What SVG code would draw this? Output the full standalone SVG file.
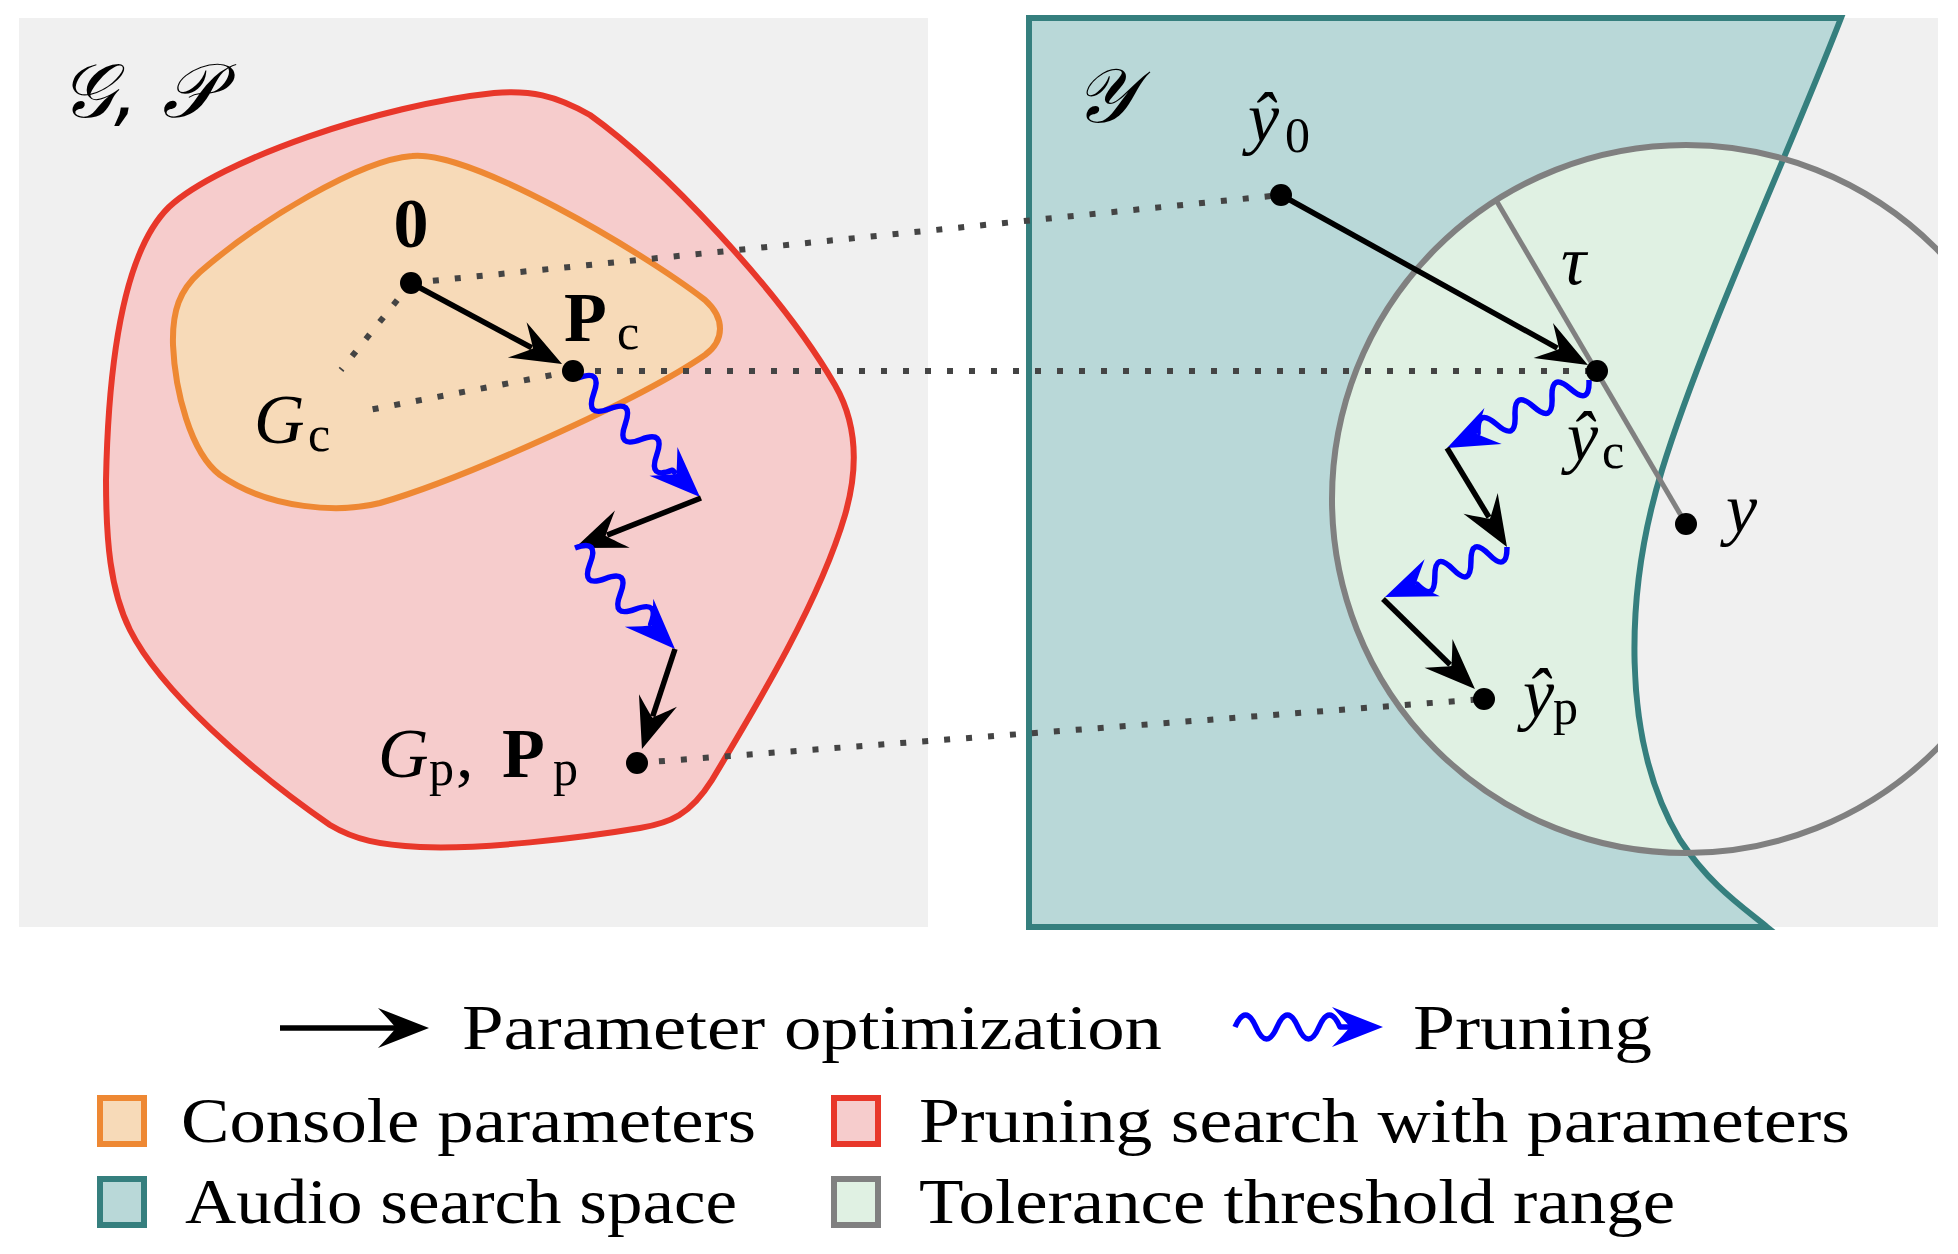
<svg xmlns="http://www.w3.org/2000/svg" xmlns:xlink="http://www.w3.org/1999/xlink" width="1958" height="1254" viewBox="0 0 1958 1254">
<style>
.panel{fill:#f0f0f0}
.t{font-family:"Liberation Serif","DejaVu Serif",serif;fill:#000}
.leg{font-size:64px}
.m{font-size:70px}
.mi{font-style:italic}
.b{font-weight:bold}
.sub{font-size:50px;font-style:normal;font-weight:normal}
.cal{font-family:"DejaVu Sans","Noto Sans","Liberation Serif",serif;font-size:76px}
.dot{fill:#000}
.dash{stroke:#444;stroke-width:6;stroke-dasharray:6 16;fill:none}
.ak{stroke:#000;stroke-width:5.5;fill:none}
.wv{stroke:#00f;stroke-width:5.5;fill:none;stroke-linejoin:round}
.hk{fill:#000}
.hb{fill:#00f}
.red{fill:#f6cccc;stroke:#e8372a;stroke-width:6}
.ora{fill:#f7dab8;stroke:#ee8833;stroke-width:6}
.teal{fill:#b9d8d8;stroke:#357f7e;stroke-width:6}
.tol{fill:#e0f1e3;stroke:#808080;stroke-width:6}
</style>
<defs>
<path id="head" d="M0,0 L-51,-20 Q-37,-5 -33,0 Q-37,5 -51,20 Z"/>
<path id="tealShape" d="M1029,18 L1841,18 C1790,150 1702,340 1662,470 C1625,590 1620,740 1680,840 C1710,885 1740,905 1767,927 L1029,927 Z"/>
<clipPath id="tealClip"><use xlink:href="#tealShape"/></clipPath>
<clipPath id="panelClip"><rect x="1029" y="18" width="909" height="909"/></clipPath>
</defs>
<rect width="1958" height="1254" fill="#fff"/>

<g id="space-left">
<rect class="panel" x="19" y="18" width="909" height="909"/>
<path id="pruning-region" class="red" d="M169,207 C220,160 380,105 494,93 C530,90 555,95 590,115 C660,165 780,290 835,385 C858,425 858,470 845,515 C820,600 760,700 712,780 C690,815 670,823 640,828 C580,838 480,850 420,847 C380,845 355,840 330,825 C250,770 160,690 130,630 C110,590 106,540 106,480 C108,380 120,255 169,207 Z"/>
<path id="console-region" class="ora" d="M412,156 C470,150 640,250 705,300 C725,318 725,340 705,355 C640,400 460,480 380,503 C340,513 270,510 220,475 C190,452 175,390 173,345 C172,310 180,290 200,272 C260,220 360,160 412,156 Z"/>
<text class="t cal mi" x="60" y="117">𝒢, 𝒫</text>
</g>

<g id="space-right">
<rect class="panel" x="1029" y="18" width="909" height="909"/>
<use xlink:href="#tealShape" fill="#b9d8d8"/>
<circle cx="1686" cy="499" r="354" fill="#e0f1e3" clip-path="url(#tealClip)"/>
<use xlink:href="#tealShape" fill="none" stroke="#357f7e" stroke-width="6"/>
<circle id="tolerance" cx="1686" cy="499" r="354" fill="none" stroke="#808080" stroke-width="6" clip-path="url(#panelClip)"/>
<line id="tau-line" x1="1496" y1="200" x2="1686" y2="524" stroke="#808080" stroke-width="5"/>
<text class="t m mi" x="1561" y="284">τ</text>
<text class="t cal mi" x="1074" y="122">𝒴</text>
</g>

<g id="connectors">
<line class="dash" x1="411" y1="283" x2="1281" y2="195"/>
<line class="dash" x1="573" y1="371" x2="1597" y2="371"/>
<line class="dash" x1="637" y1="763" x2="1484" y2="699"/>
<line class="dash" x1="411" y1="283" x2="341" y2="370"/>
<line class="dash" x1="573" y1="371" x2="369" y2="410"/>

<g transform="translate(411,283) rotate(28.2)"><line class="ak" x1="0" y1="0" x2="137" y2="0"/><use xlink:href="#head" class="hk" x="171.4"/></g>
<g transform="translate(578,378) rotate(44.3)"><path class="wv" d="M0,0 q11,-24 22,0 t22,0 t22,0 t22,0 t22,0 t22,0 L137,0"/><use xlink:href="#head" class="hb" x="170.4"/></g>
<g transform="translate(701,498) rotate(158.4)"><line class="ak" x1="0" y1="0" x2="101" y2="0"/><use xlink:href="#head" class="hk" x="135.6"/></g>
<g transform="translate(575,548) rotate(45.3)"><path class="wv" d="M0,0 q10.75,-24 21.5,0 t21.5,0 t21.5,0 t21.5,0 t21.5,0 L109,0"/><use xlink:href="#head" class="hb" x="142.1"/></g>
<g transform="translate(675,649) rotate(108.3)"><line class="ak" x1="0" y1="0" x2="71" y2="0"/><use xlink:href="#head" class="hk" x="105.3"/></g>

<g transform="translate(1281,195) rotate(29.0)"><line class="ak" x1="0" y1="0" x2="316" y2="0"/><use xlink:href="#head" class="hk" x="350.9"/></g>
<g transform="translate(1589,380) rotate(154.4)"><path class="wv" d="M0,0 q10.25,-24 20.5,0 t20.5,0 t20.5,0 t20.5,0 t20.5,0 t20.5,0 L124,0"/><use xlink:href="#head" class="hb" x="157.4"/></g>
<g transform="translate(1447,448) rotate(58.8)"><line class="ak" x1="0" y1="0" x2="81" y2="0"/><use xlink:href="#head" class="hk" x="115.8"/></g>
<g transform="translate(1507,547) rotate(157.7)"><path class="wv" d="M0,0 q9.75,-24 19.5,0 t19.5,0 t19.5,0 t19.5,0 t19.5,0 L99,0"/><use xlink:href="#head" class="hb" x="131.8"/></g>
<g transform="translate(1383,599) rotate(44.4)"><line class="ak" x1="0" y1="0" x2="94" y2="0"/><use xlink:href="#head" class="hk" x="128.7"/></g>
</g>

<g id="node-0"><circle class="dot" cx="411" cy="283" r="11"/><text class="t m b" x="411" y="247" text-anchor="middle">0</text></g>
<g id="node-Pc"><circle class="dot" cx="573" cy="371" r="11"/><text class="t m"><tspan class="b" x="564" y="341">P</tspan><tspan class="sub" x="617" y="349">c</tspan></text></g>
<g id="node-Gc"><text class="t m"><tspan class="mi" x="254" y="443">G</tspan><tspan class="sub" x="308" y="451">c</tspan></text></g>
<g id="node-Gp"><circle class="dot" cx="637" cy="763" r="11"/><text class="t m"><tspan class="mi" x="378" y="777">G</tspan><tspan class="sub" x="429" y="785">p</tspan><tspan x="456" y="777">,</tspan><tspan class="b" x="502" y="777">P</tspan><tspan class="sub" x="553" y="785">p</tspan></text></g>
<g id="node-y0"><circle class="dot" cx="1281" cy="195" r="11"/><text class="t m"><tspan class="mi" x="1248" y="141">ŷ</tspan><tspan class="sub" x="1285" y="152">0</tspan></text></g>
<g id="node-yc"><circle class="dot" cx="1597" cy="371" r="11"/><text class="t m"><tspan class="mi" x="1567" y="460">ŷ</tspan><tspan class="sub" x="1602" y="468">c</tspan></text></g>
<g id="node-y"><circle class="dot" cx="1686" cy="524" r="11"/><text class="t m mi" x="1726" y="532">y</text></g>
<g id="node-yp"><circle class="dot" cx="1484" cy="699" r="11"/><text class="t m"><tspan class="mi" x="1523" y="717">ŷ</tspan><tspan class="sub" x="1553" y="724">p</tspan></text></g>

<g id="legend">
<g transform="translate(280,1028)"><line class="ak" x1="0" y1="0" x2="116" y2="0" stroke-width="6"/><use xlink:href="#head" class="hk" x="149"/></g>
<text class="t leg" x="462" y="1049" textLength="700" lengthAdjust="spacingAndGlyphs">Parameter optimization</text>
<g transform="translate(1235,1027)"><path class="wv" d="M0,0 q10.5,-24 21,0 t21,0 t21,0 t21,0 t21,0 L115,0"/><use xlink:href="#head" class="hb" x="148"/></g>
<text class="t leg" x="1413" y="1049" textLength="239" lengthAdjust="spacingAndGlyphs">Pruning</text>
<rect class="ora" x="100" y="1098" width="44" height="46"/>
<text class="t leg" x="181" y="1142" textLength="575" lengthAdjust="spacingAndGlyphs">Console parameters</text>
<rect class="red" x="834" y="1098" width="44" height="46"/>
<text class="t leg" x="919" y="1142" textLength="931" lengthAdjust="spacingAndGlyphs">Pruning search with parameters</text>
<rect class="teal" x="100" y="1179" width="44" height="46"/>
<text class="t leg" x="185" y="1223" textLength="552" lengthAdjust="spacingAndGlyphs">Audio search space</text>
<rect class="tol" x="834" y="1179" width="44" height="46"/>
<text class="t leg" x="919" y="1223" textLength="756" lengthAdjust="spacingAndGlyphs">Tolerance threshold range</text>
</g>
</svg>
